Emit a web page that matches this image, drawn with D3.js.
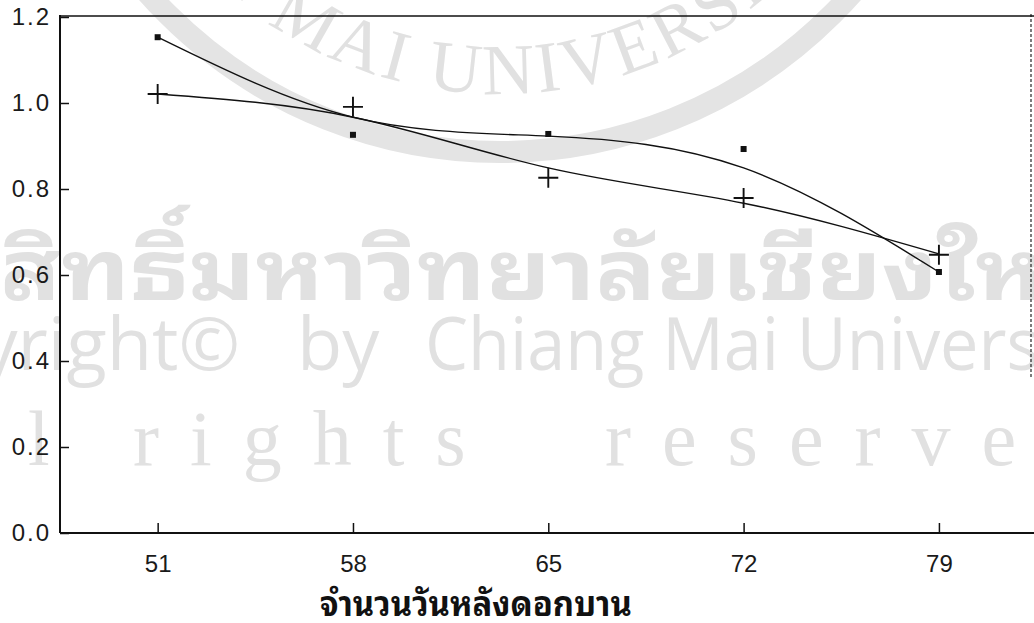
<!DOCTYPE html>
<html>
<head>
<meta charset="utf-8">
<script src="https://cdn.jsdelivr.net/npm/d3@7"></script>
<style>
  html, body { margin: 0; padding: 0; background: #fff; }
  svg { display: block; }
</style>
</head>
<body>
<svg id="chart" width="1034" height="623"></svg>
<script>
// Days after flowering (x) and the two measured series with their fitted curves
const days = [51, 58, 65, 72, 79];
const dotValues = [1.153, 0.926, 0.928, 0.893, 0.607];
const plusValues = [1.021, 0.991, 0.826, 0.779, 0.647];
const dotFit = [1.153, 0.967, 0.923, 0.849, 0.607];
const plusFit = [1.021, 0.967, 0.849, 0.767, 0.649];
const yTicks = [0.0, 0.2, 0.4, 0.6, 0.8, 1.0, 1.2];
const xTitle = "จำนวนวันหลังดอกบาน";

const W = 1034, H = 623;
const plotLeft = 60, plotRight = 1031, plotTop = 17, plotBottom = 533;
const thaiFonts = "Noto Sans Thai Looped, Noto Serif Thai, Loma, Garuda, Norasi, Noto Sans Thai, sans-serif";

const svg = d3.select("#chart");

const x = d3.scaleLinear().domain([47.5, 82.3]).range([plotLeft, plotRight]);
const y = d3.scaleLinear().domain([0, 1.2]).range([plotBottom, plotTop]);

// ---- background watermark ----
const wm = svg.append("g").attr("fill", "#e1e1e1");
const cx = 500, cy = -318;
wm.append("circle")
  .attr("cx", cx).attr("cy", cy).attr("r", 470)
  .attr("fill", "none").attr("stroke", "#e4e4e4").attr("stroke-width", 22);
const rt = 412;
const a0 = 160 * Math.PI / 180, a1 = 20 * Math.PI / 180;
svg.append("defs").append("path")
  .attr("id", "sealArc")
  .attr("d", `M${cx + rt * Math.cos(a0)},${cy + rt * Math.sin(a0)} A${rt},${rt} 0 0 0 ${cx + rt * Math.cos(a1)},${cy + rt * Math.sin(a1)}`);
wm.append("text")
  .attr("font-family", "Liberation Serif, serif")
  .attr("font-size", 72)
  .attr("letter-spacing", 4)
  .append("textPath")
  .attr("href", "#sealArc")
  .attr("startOffset", -70)
  .text("CHIANG MAI UNIVERSITY");

wm.append("text")
  .attr("x", 0).attr("y", 300)
  .attr("font-family", thaiFonts)
  .attr("font-weight", "bold")
  .attr("font-size", 84)
  .attr("textLength", 1110)
  .attr("lengthAdjust", "spacingAndGlyphs")
  .text("สิทธิ์มหาวิทยาลัยเชียงใหม่");

const sansWm = { "font-family": "Open Sans, sans-serif", "font-size": 74 };
const row2 = [["Copyright©", 240, "end", null], ["by", 297, "start", null], ["Chiang Mai University", 425, "start", 690]];
row2.forEach(([s, px, anchor, len]) => {
  const t = wm.append("text").attr("x", px).attr("y", 370).attr("text-anchor", anchor).text(s);
  Object.entries(sansWm).forEach(([k, v]) => t.attr(k, v));
  if (len) t.attr("textLength", len).attr("lengthAdjust", "spacingAndGlyphs");
});

const serifWm = { "font-family": "Liberation Serif, serif", "font-size": 78, "letter-spacing": 31 };
[["All", -112], ["rights", 133], ["reserved", 605]].forEach(([w, px]) => {
  const t = wm.append("text").attr("x", px).attr("y", 465).text(w);
  Object.entries(serifWm).forEach(([k, v]) => t.attr(k, v));
});

// ---- frame ----
const ink = "#111";
svg.append("line")
  .attr("x1", plotLeft).attr("x2", W).attr("y1", y(1.2) - 1).attr("y2", y(1.2) - 1)
  .attr("stroke", ink).attr("stroke-width", 1.6);
svg.append("line")
  .attr("x1", plotRight).attr("x2", plotRight).attr("y1", y(1.2) - 3).attr("y2", y(0.36))
  .attr("stroke", ink).attr("stroke-width", 1.1).attr("stroke-dasharray", "3,2");
svg.append("line")
  .attr("x1", plotLeft).attr("x2", plotLeft).attr("y1", y(1.2) - 2).attr("y2", plotBottom)
  .attr("stroke", ink).attr("stroke-width", 2);
svg.append("line")
  .attr("x1", plotLeft).attr("x2", W).attr("y1", plotBottom).attr("y2", plotBottom)
  .attr("stroke", ink).attr("stroke-width", 2);

// ---- axes ----
const yAxis = svg.append("g")
  .attr("transform", `translate(${plotLeft},0)`)
  .call(d3.axisLeft(y).tickValues(yTicks).tickFormat(d3.format(".1f"))
    .tickSize(-9).tickSizeOuter(0).tickPadding(9));
yAxis.select(".domain").remove();
yAxis.selectAll(".tick line").attr("stroke", ink).attr("stroke-width", 1.5);
yAxis.selectAll(".tick text")
  .attr("fill", "#1a1a1a")
  .attr("font-family", "Liberation Sans, Arial, sans-serif")
  .attr("font-size", 24)
  .attr("letter-spacing", 2);

const xAxis = svg.append("g")
  .attr("transform", `translate(0,${plotBottom})`)
  .call(d3.axisBottom(x).tickValues(days).tickFormat(d3.format("d"))
    .tickSize(-10).tickSizeOuter(0).tickPadding(22));
xAxis.select(".domain").remove();
xAxis.selectAll(".tick line").attr("stroke", ink).attr("stroke-width", 1.5);
xAxis.selectAll(".tick text")
  .attr("fill", "#1a1a1a")
  .attr("font-family", "Liberation Sans, Arial, sans-serif")
  .attr("font-size", 24);

svg.append("text")
  .attr("x", 320).attr("y", 616)
  .attr("font-family", thaiFonts)
  .attr("font-weight", "bold")
  .attr("font-size", 35)
  .attr("textLength", 312)
  .attr("lengthAdjust", "spacingAndGlyphs")
  .attr("fill", "#111")
  .text(xTitle);

// ---- fitted curves ----
const line = d3.line().x(d => x(d[0])).y(d => y(d[1])).curve(d3.curveNatural);
[dotFit, plusFit].forEach(fit => {
  svg.append("path")
    .attr("d", line(days.map((d, i) => [d, fit[i]])))
    .attr("fill", "none").attr("stroke", ink).attr("stroke-width", 1.4);
});

// ---- markers ----
svg.append("g").selectAll("rect")
  .data(days.map((d, i) => [d, dotValues[i]]))
  .join("rect")
  .attr("x", d => x(d[0]) - 3).attr("y", d => y(d[1]) - 3)
  .attr("width", 6).attr("height", 6)
  .attr("fill", ink);

svg.append("g").selectAll("path")
  .data(days.map((d, i) => [d, plusValues[i]]))
  .join("path")
  .attr("d", d => `M${x(d[0]) - 10},${y(d[1])}h20M${x(d[0])},${y(d[1]) - 10}v20`)
  .attr("stroke", ink).attr("stroke-width", 1.9).attr("fill", "none");
</script>
</body>
</html>
